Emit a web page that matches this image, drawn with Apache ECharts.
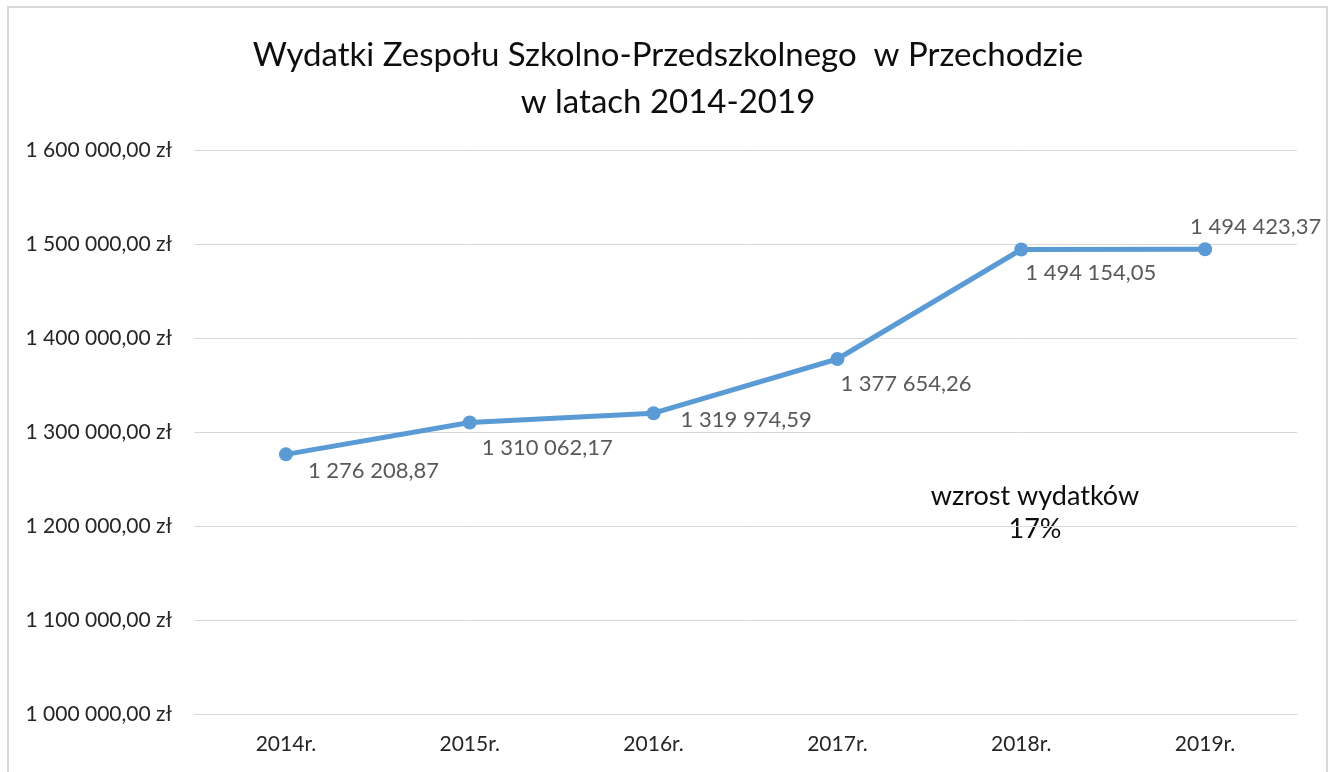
<!DOCTYPE html>
<html>
<head>
<meta charset="utf-8">
<script src="https://cdn.jsdelivr.net/npm/echarts@6/dist/echarts.min.js"></script>
<style>
html,body{margin:0;padding:0;background:#fff;}
#chart{width:1336px;height:772px;}
</style>
</head>
<body>
<div id="chart"></div>
<script>
const categories = ['2014r.', '2015r.', '2016r.', '2017r.', '2018r.', '2019r.'];
const expenses = [1276208.87, 1310062.17, 1319974.59, 1377654.26, 1494154.05, 1494423.37];
const titleLines = ['Wydatki Zespołu Szkolno-Przedszkolnego  w Przechodzie', 'w latach 2014-2019'];
const noteLines = ['wzrost wydatków', '17%'];
const labelOffsets = [[22, 17], [12, 25], [27, 7], [3, 25], [4, 23], [-15, -22]];

const FONT = 'Lato, "Open Sans", sans-serif';

function fmt(v, dec) {
  const parts = v.toFixed(dec).split('.');
  const intPart = parts[0].replace(/\B(?=(\d{3})+(?!\d))/g, ' ');
  return dec ? intPart + ',' + parts[1] : intPart;
}

const chart = echarts.init(document.getElementById('chart'));
chart.setOption({
  backgroundColor: '#fff',
  animation: false,
  title: {
    text: titleLines.join('\n'),
    left: 'center',
    top: 27,
    textStyle: { fontFamily: FONT, fontSize: 33, fontWeight: 'normal', color: '#0d0d0d', lineHeight: 47 }
  },
  grid: { left: 194, right: 39, top: 150, bottom: 58, containLabel: false },
  xAxis: {
    type: 'category',
    data: categories,
    axisLine: { show: true, lineStyle: { color: '#d9d9d9', width: 1 } },
    axisTick: { show: false },
    axisLabel: { fontFamily: FONT, fontSize: 21, color: '#262626', margin: 20 }
  },
  yAxis: {
    type: 'value',
    min: 1000000,
    max: 1600000,
    interval: 100000,
    axisLine: { show: false },
    axisTick: { show: false },
    splitLine: { lineStyle: { color: '#d9d9d9', width: 1 } },
    axisLabel: {
      fontFamily: FONT, fontSize: 21, color: '#262626', margin: 22,
      formatter: v => fmt(v, 2) + ' zł'
    }
  },
  series: [{
    type: 'line',
    data: expenses.map((v, i) => ({
      value: v,
      label: {
        show: true,
        position: 'inside',
        align: 'left',
        verticalAlign: 'middle',
        offset: labelOffsets[i]
      }
    })),
    symbol: 'circle',
    symbolSize: 14,
    lineStyle: { color: '#5b9bd5', width: 5 },
    itemStyle: { color: '#5b9bd5' },
    label: {
      fontFamily: FONT, fontSize: 22, color: '#595959',
      formatter: p => fmt(p.value, 2)
    }
  }],
  graphic: [
    {
      type: 'rect',
      shape: { x: 8, y: 7, width: 1319, height: 780 },
      style: { fill: 'none', stroke: '#d9d9d9', lineWidth: 2 },
      silent: true
    },
    {
      type: 'text',
      x: 1035, y: 480,
      style: {
        text: noteLines.join('\n'),
        font: '27px ' + FONT,
        fill: '#0d0d0d',
        align: 'center',
        verticalAlign: 'top',
        lineHeight: 33
      }
    }
  ]
});
</script>
</body>
</html>
